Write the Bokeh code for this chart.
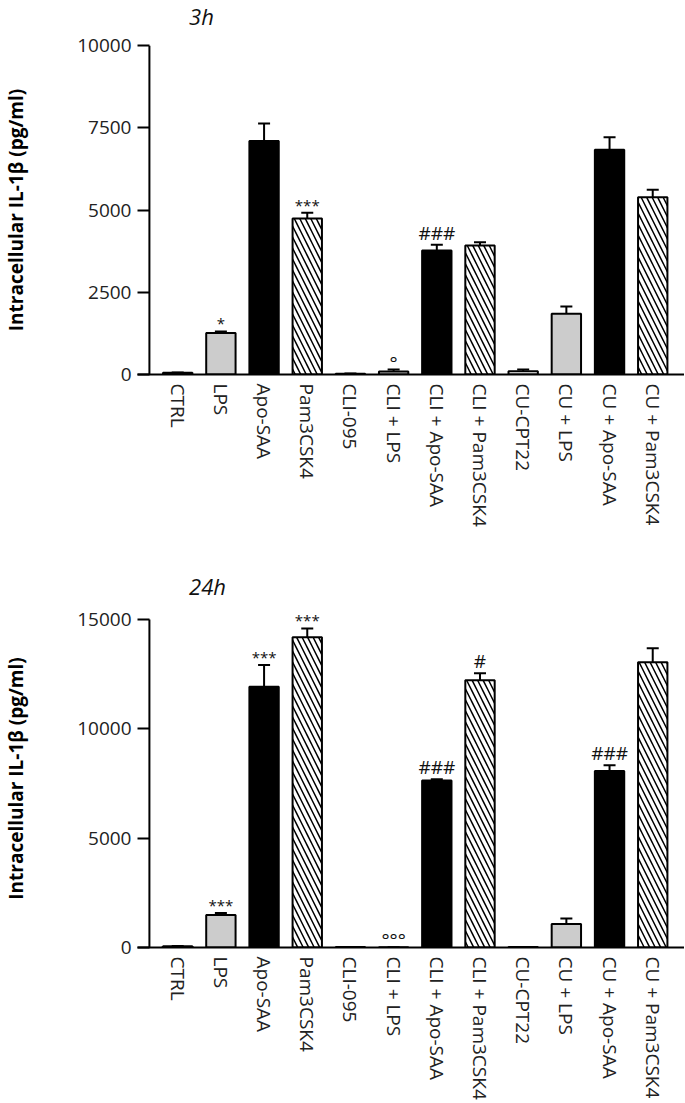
from bokeh.plotting import figure
from bokeh.models import (ColumnDataSource, FixedTicker, Whisker, TeeHead,
                          LabelSet, Label, Range1d)
from bokeh.layouts import column
from bokeh.embed import file_html
from bokeh.resources import INLINE
from bokeh.core.properties import value

# ---------------- data ----------------
categories = ["CTRL", "LPS", "Apo-SAA", "Pam3CSK4",
              "CLI-095", "CLI + LPS", "CLI + Apo-SAA", "CLI + Pam3CSK4",
              "CU-CPT22", "CU + LPS", "CU + Apo-SAA", "CU + Pam3CSK4"]
stimulus = ["none", "lps", "saa", "pam"] * 3

mean_3h = [50, 1260, 7100, 4740, 20, 90, 3770, 3920, 100, 1850, 6830, 5390]
sem_3h = [10, 50, 530, 180, 10, 60, 170, 100, 50, 220, 380, 225]
sig_3h = ["", "*", "", "***", "", "°", "###", "", "", "", "", ""]

mean_24h = [60, 1490, 11920, 14190, 20, 10, 7640, 12220, 20, 1070, 8070, 13050]
sem_24h = [10, 90, 1000, 400, 5, 5, 60, 320, 5, 260, 260, 640]
sig_24h = ["", "***", "***", "***", "", "°°°", "###", "#", "", "", "###", ""]

ticks_3h = [0, 2500, 5000, 7500, 10000]
ticks_24h = [0, 5000, 10000, 15000]

# ---------------- styles / layout ----------------
FONT = "Open Sans"
FILL = {"none": "white", "lps": "#cccccc", "saa": "black", "pam": "white"}
HATCH = {"none": " ", "lps": " ", "saa": " ", "pam": "\\"}
SIG_STYLE = {"*": ("15px", 2), "#": ("19px", 5), "°": ("19px", 0)}

FIG_W = 684
BORDER_L = 133
PX_PER_CAT = 43.5
FIRST_CENTER_OFFSET = 40.5          # px from frame left to first bar centre
X_START = -FIRST_CENTER_OFFSET / PX_PER_CAT
X_END = X_START + (FIG_W - BORDER_L) / PX_PER_CAT
YAXIS_X = X_START + 12 / PX_PER_CAT  # Prism-style offset of the y axis rule
TITLE_X = X_START + 52 / PX_PER_CAT
X_RANGE = Range1d(X_START, X_END)
LABEL_SHIFT = 8                      # compensation for Label baseline placement


def make_header(text, height, baseline_from_bottom):
    h = figure(width=FIG_W, height=height, output_backend="svg", toolbar_location=None,
               title=None, x_range=X_RANGE, y_range=Range1d(0, height),
               x_axis_type=None, y_axis_type=None,
               min_border_left=BORDER_L, min_border_right=0,
               min_border_top=0, min_border_bottom=0)
    h.outline_line_color = None
    h.grid.visible = False
    h.add_layout(Label(x=TITLE_X, y=baseline_from_bottom + LABEL_SHIFT, text=text,
                       text_font=FONT, text_font_style="italic",
                       text_font_size="22px", text_color="#111111",
                       text_align="left", text_baseline="alphabetic"))
    return h


def make_panel(means, sems, sigs, ticks, height, axis_px, extra_top_px,
               mb_top, mb_bottom):
    frame_px = axis_px + extra_top_px
    y_end = ticks[-1] * frame_px / axis_px
    p = figure(width=FIG_W, height=height, output_backend="svg", toolbar_location=None,
               title=None, x_range=X_RANGE, y_range=Range1d(0, y_end),
               min_border_left=BORDER_L, min_border_right=0,
               min_border_top=mb_top, min_border_bottom=mb_bottom)
    p.outline_line_color = None
    p.xgrid.visible = False
    p.ygrid.visible = False

    xs = list(range(len(categories)))
    src = ColumnDataSource(dict(
        x=xs, mean=means, upper=[m + s for m, s in zip(means, sems)],
        fill=[FILL[s] for s in stimulus], hatch=[HATCH[s] for s in stimulus]))

    p.vbar(x="x", top="mean", bottom=0, width=0.68, source=src,
           fill_color="fill", line_color="black", line_width=2,
           hatch_pattern="hatch", hatch_color="black", hatch_scale=11,
           hatch_weight=1.5)

    p.add_layout(Whisker(base="x", lower="mean", upper="upper", source=src,
                         dimension="height", line_width=2, line_color="black",
                         upper_head=TeeHead(size=12, line_width=2, line_color="black"),
                         lower_head=None))

    for key, (fsize, off) in SIG_STYLE.items():
        idx = [i for i, s in enumerate(sigs) if s and s[0] == key]
        if not idx:
            continue
        lsrc = ColumnDataSource(dict(
            x=[xs[i] for i in idx],
            y=[means[i] + sems[i] for i in idx],
            text=[sigs[i] for i in idx]))
        p.add_layout(LabelSet(x="x", y="y", text="text", source=lsrc,
                              y_offset=off, text_align="center",
                              text_baseline="alphabetic", text_font=value(FONT),
                              text_font_size=value(fsize), text_color="#111111"))

    # y axis rule, offset from the frame edge (x axis overhangs it)
    p.segment(x0=[YAXIS_X], y0=[ticks[0]], x1=[YAXIS_X], y1=[ticks[-1]],
              line_color="black", line_width=2)

    ya = p.yaxis[0]
    ya.ticker = FixedTicker(ticks=ticks)
    ya.axis_line_color = None
    ya.major_tick_in = 12
    ya.major_tick_out = 0
    ya.major_tick_line_width = 2
    ya.major_tick_line_color = "black"
    ya.minor_tick_line_color = None
    ya.major_label_standoff = 6
    ya.major_label_text_font = FONT
    ya.major_label_text_font_size = "19px"
    ya.major_label_text_color = "#222222"
    ya.axis_label = "Intracellular IL-1β (pg/ml)"
    ya.axis_label_text_font = FONT
    ya.axis_label_text_font_style = "bold"
    ya.axis_label_text_font_size = "19px"
    ya.axis_label_text_color = "black"
    ya.axis_label_standoff = 45

    xa = p.xaxis[0]
    xa.ticker = FixedTicker(ticks=xs)
    xa.major_label_overrides = {i: c for i, c in zip(xs, categories)}
    xa.major_label_orientation = "vertical"
    xa.major_tick_in = 0
    xa.major_tick_out = 0
    xa.minor_tick_line_color = None
    xa.axis_line_width = 2
    xa.axis_line_color = "black"
    xa.major_label_standoff = 9
    xa.major_label_text_font = FONT
    xa.major_label_text_font_size = "19px"
    xa.major_label_text_color = "#222222"
    return p


# page rows: header 0-33, chart 33-560, header 560-601, chart 601-1103
h1 = make_header("3h", 33, 10)
p1 = make_panel(mean_3h, sem_3h, sig_3h, ticks_3h, 527, 329, 0, 12, 186)
h2 = make_header("24h", 41, 8)
p2 = make_panel(mean_24h, sem_24h, sig_24h, ticks_24h, 502, 328, 10, 8, 156)

layout = column(h1, p1, h2, p2, spacing=0)
open("out.html", "w").write(file_html(layout, INLINE))
